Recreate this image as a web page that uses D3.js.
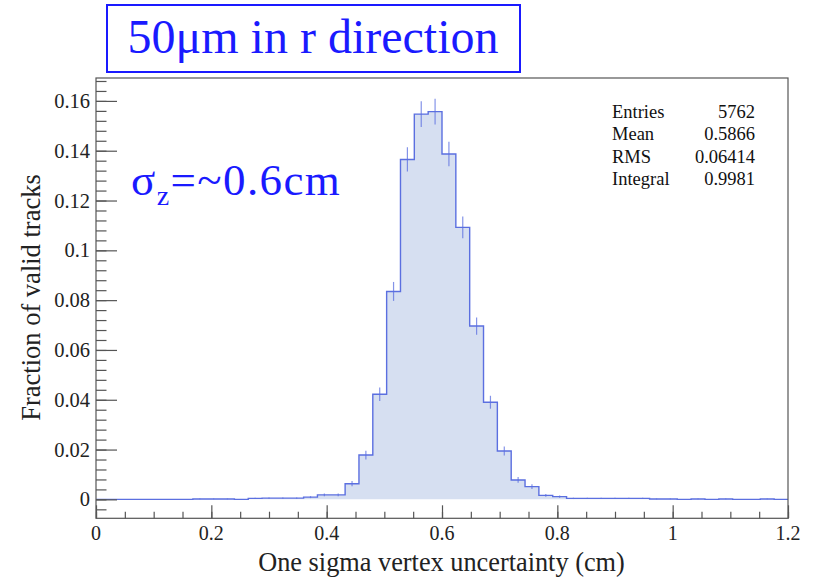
<!DOCTYPE html>
<html>
<head>
<meta charset="utf-8">
<script src="https://cdn.jsdelivr.net/npm/d3@7"></script>
<style>
  html, body { margin: 0; padding: 0; background: #fff; }
  svg { display: block; }
  text { font-family: "Liberation Serif", "Times New Roman", serif; }
</style>
</head>
<body>
<svg id="chart" width="815" height="577"></svg>
<script>
// ---------------- data ----------------
const binEdgesRange = [0, 1.2];
const nBins = 50;
// fraction of valid tracks per bin (bin width 0.024 cm)
const binValues = [
  0, 0, 0, 0, 0, 0, 0, 0.00017, 0.00017, 0.00017,
  0, 0.0004, 0.0005, 0.0005, 0.0005, 0.0009, 0.0018, 0.0018, 0.0063, 0.0178,
  0.0422, 0.0835, 0.1365, 0.1547, 0.1557, 0.1387, 0.1092, 0.0696, 0.0390, 0.0194,
  0.0078, 0.0051, 0.0016, 0.0011, 0.0004, 0.0004, 0.0004, 0.0004, 0.0004, 0.0004,
  0.00017, 0.00017, 0, 0.00017, 0, 0.00017, 0, 0, 0.00017, 0
];
const normEntries = 5773; // entries / integral, used for error bars
const xTickValues = [0, 0.2, 0.4, 0.6, 0.8, 1.0, 1.2];
const xTickLabels = ["0", "0.2", "0.4", "0.6", "0.8", "1", "1.2"];
const yTickValues = [0, 0.02, 0.04, 0.06, 0.08, 0.10, 0.12, 0.14, 0.16];
const yTickLabels = ["0", "0.02", "0.04", "0.06", "0.08", "0.1", "0.12", "0.14", "0.16"];
const statsNames = ["Entries", "Mean", "RMS", "Integral"];
const statsValues = ["5762", "0.5866", "0.06414", "0.9981"];
const titleText = "50μm in r direction";
const xTitle = "One sigma vertex uncertainty (cm)";
const yTitle = "Fraction of valid tracks";

// ---------------- layout ----------------
const svg = d3.select("#chart");
const F = { left: 96, right: 788, top: 78, bottom: 518.3 };
const x = d3.scaleLinear().domain(binEdgesRange).range([F.left, F.right]);
const y = d3.scaleLinear().domain([-0.0076, 0.1692]).range([F.bottom, F.top]);
const binW = (binEdgesRange[1] - binEdgesRange[0]) / nBins;

const lineCol = "#5b6fe0";
const fillCol = "#d6dff1";
const axisCol = "#555";
const blue = "#1a1aff";

// histogram fill + outline
const pts = [];
binValues.forEach((v, i) => {
  pts.push([binEdgesRange[0] + i * binW, v]);
  pts.push([binEdgesRange[0] + (i + 1) * binW, v]);
});
const area = d3.area().x(d => x(d[0])).y0(y(0)).y1(d => y(d[1]));
svg.append("path").attr("d", area(pts)).attr("fill", fillCol);
const line = d3.line().x(d => x(d[0])).y(d => y(d[1]));
svg.append("path").attr("d", line(pts)).attr("fill", "none")
  .attr("stroke", lineCol).attr("stroke-width", 1.4);

// error bars
svg.append("g").selectAll("line").data(binValues.map((v, i) => [i, v]).filter(d => d[1] > 0))
  .join("line")
  .attr("x1", d => x(binEdgesRange[0] + (d[0] + 0.5) * binW))
  .attr("x2", d => x(binEdgesRange[0] + (d[0] + 0.5) * binW))
  .attr("y1", d => y(d[1] + Math.sqrt(d[1] / normEntries)))
  .attr("y2", d => y(Math.max(0, d[1] - Math.sqrt(d[1] / normEntries))))
  .attr("stroke", lineCol).attr("stroke-opacity", 0.75).attr("stroke-width", 1.2);

// frame
svg.append("rect").attr("x", F.left).attr("y", F.top)
  .attr("width", F.right - F.left).attr("height", F.bottom - F.top)
  .attr("fill", "none").attr("stroke", axisCol).attr("stroke-width", 1.2);

// x axis ticks (inward)
const xMinor = d3.range(0, 1.2001, 0.05);
const gx = svg.append("g").attr("transform", `translate(0,${F.bottom})`);
gx.call(d3.axisBottom(x).tickValues(xMinor).tickSize(-6.6).tickFormat(""))
gx.append("g").call(d3.axisBottom(x).tickValues(xTickValues).tickSize(-13).tickFormat(""));
gx.selectAll(".domain").remove();
gx.selectAll("line").attr("stroke", axisCol).attr("stroke-width", 1.2);
svg.append("g").selectAll("text").data(xTickValues).join("text")
  .attr("x", d => x(d)).attr("y", 540).attr("text-anchor", "middle")
  .attr("font-size", 20).attr("fill", "#222")
  .text((d, i) => xTickLabels[i]);

// y axis ticks (inward)
const yMinor = d3.range(-0.004, 0.1681, 0.004);
const gy = svg.append("g").attr("transform", `translate(${F.left},0)`);
gy.call(d3.axisLeft(y).tickValues(yMinor).tickSize(-10.5).tickFormat(""));
gy.append("g").call(d3.axisLeft(y).tickValues(yTickValues).tickSize(-21).tickFormat(""));
gy.selectAll(".domain").remove();
gy.selectAll("line").attr("stroke", axisCol).attr("stroke-width", 1.2);
svg.append("g").selectAll("text").data(yTickValues).join("text")
  .attr("x", 90).attr("y", d => y(d) + 7).attr("text-anchor", "end")
  .attr("font-size", 20.5).attr("fill", "#222")
  .text((d, i) => yTickLabels[i]);

// axis titles
svg.append("text").attr("x", (F.left + F.right) / 2 - 0.5).attr("y", 571)
  .attr("text-anchor", "middle").attr("font-size", 26.3).attr("fill", "#222").text(xTitle);
svg.append("text").attr("transform", `translate(40,${(175 + 420) / 2}) rotate(-90)`)
  .attr("text-anchor", "middle").attr("font-size", 26.5).attr("fill", "#222").text(yTitle);

// stats
statsNames.forEach((n, i) => {
  const yy = 117.5 + i * 22.6;
  svg.append("text").attr("x", 612).attr("y", yy).attr("font-size", 18.5).attr("fill", "#111").text(n);
  svg.append("text").attr("x", 755).attr("y", yy).attr("text-anchor", "end")
    .attr("font-size", 18.5).attr("fill", "#111").text(statsValues[i]);
});

// title box
svg.append("rect").attr("x", 107).attr("y", 5).attr("width", 413).attr("height", 67)
  .attr("fill", "#fff").attr("stroke", blue).attr("stroke-width", 2);
svg.append("text").attr("x", 313).attr("y", 53).attr("text-anchor", "middle")
  .attr("font-size", 48).attr("fill", blue).text(titleText);

// sigma_z annotation
const sz = svg.append("text").attr("x", 131).attr("y", 195).attr("font-size", 45)
  .attr("letter-spacing", 1.4).attr("fill", blue);
sz.append("tspan").text("σ");
sz.append("tspan").attr("font-size", 28).attr("dy", 10).text("z");
sz.append("tspan").attr("dy", -10).text("=~0.6cm");
</script>
</body>
</html>
